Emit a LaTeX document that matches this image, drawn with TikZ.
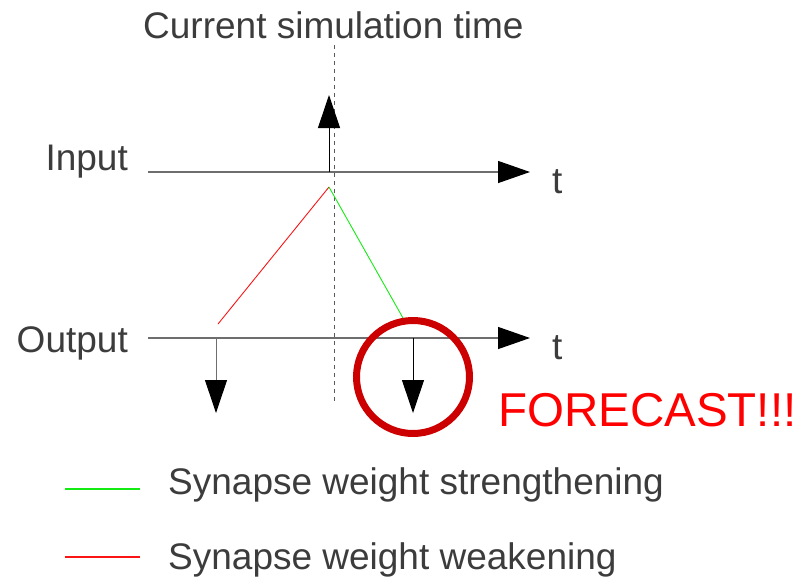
\documentclass[tikz,border=0pt]{standalone}
\usepackage{fontspec}
\setmainfont{Liberation Sans}
\usetikzlibrary{arrows.meta}
\definecolor{txt}{RGB}{60,60,60}
\definecolor{axisgray}{RGB}{110,110,110}
\definecolor{dashgray}{RGB}{90,90,90}
\definecolor{circred}{RGB}{204,0,0}
\definecolor{fred}{RGB}{255,0,0}
\definecolor{sgreen}{RGB}{20,235,20}
\definecolor{sred}{RGB}{250,20,20}
\begin{document}
\begin{tikzpicture}[x=1pt,y=-1pt,
  lbl/.style={inner sep=0pt,text=txt,font=\fontsize{37}{44}\selectfont},
  axisline/.style={draw=axisgray,line width=1.3pt,-{Triangle[length=32pt,width=22pt,color=black]}},
  spike/.style={line width=1pt,-{Triangle[length=33pt,width=22pt,color=black]}},
  legline/.style={line width=1.6pt},
]
\path[use as bounding box] (0,0) rectangle (796,579);

% texts
\node[lbl,anchor=base west] (title) at (143,38) {Current simulation time};
\node[lbl,anchor=base east] (inlbl) at (128,170) {Input};
\node[lbl,anchor=base east] (outlbl) at (128,352) {Output};
\node[lbl,anchor=base west] (tin) at (552,193) {t};
\node[lbl,anchor=base west] (tout) at (552,359) {t};
\node[inner sep=0pt,anchor=base west,text=fred,font=\fontsize{47.5}{56}\selectfont] (fc) at (498,426) {FORECAST!!!};
\node[lbl,anchor=base west] (lg1) at (168,494) {Synapse weight strengthening};
\node[lbl,anchor=base west] (lg2) at (168,569) {Synapse weight weakening};

% coordinates
\coordinate (dtop) at (334,45);
\coordinate (dbot) at (334,404);
\coordinate (inS) at (148,172);
\coordinate (inE) at (530,172);
\coordinate (outS) at (148,338);
\coordinate (outE) at (530,338);
\coordinate (upB) at (329,172);
\coordinate (upT) at (329,95);
\coordinate (d1B) at (216,338);
\coordinate (d1T) at (216,413);
\coordinate (d2B) at (413,338);
\coordinate (d2T) at (413,413);
\coordinate (peak) at (329,187);
\coordinate (rEnd) at (218,324);
\coordinate (gEnd) at (403,318);
\coordinate (l1a) at (65,489);
\coordinate (l1b) at (140,489);
\coordinate (l2a) at (65,557);
\coordinate (l2b) at (140,557);

% dashed current-time line
\draw[dashgray,line width=1pt,dash pattern=on 4pt off 4pt] (dtop) -- (dbot);

% axes
\draw[axisline] (inS) -- (inE);
\draw[axisline] (outS) -- (outE);

% spikes
\draw[spike,black] (upB) -- (upT);
\draw[spike,axisgray] (d1B) -- (d1T);
\draw[spike,black] (d2B) -- (d2T);

% STDP lines
\draw[sred,line width=0.9pt] (rEnd) -- (peak);
\draw[sgreen,line width=0.9pt] (peak) -- (gEnd);

% forecast circle
\node[draw=circred,line width=7pt,circle,minimum size=113pt,inner sep=0pt] (circ) at (413,377) {};

% legend
\draw[legline,draw=sgreen] (l1a) -- (l1b);
\draw[legline,draw=sred] (l2a) -- (l2b);
\end{tikzpicture}
\end{document}
